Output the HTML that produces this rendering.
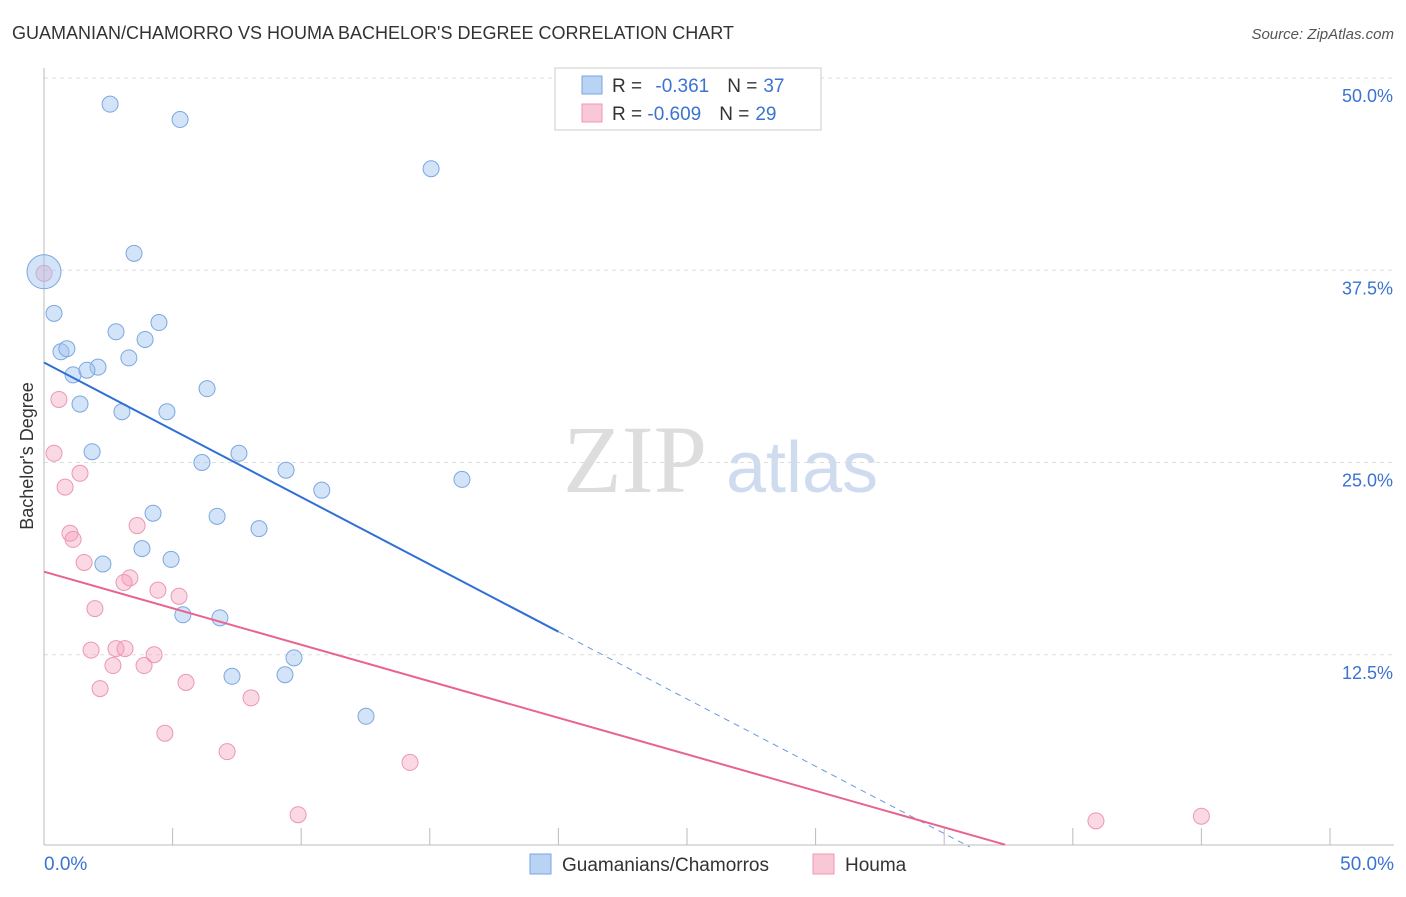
<!DOCTYPE html>
<html><head><meta charset="utf-8"><style>
body{margin:0;background:#fff;font-family:"Liberation Sans",sans-serif}
</style></head><body>
<svg id="c" width="1406" height="892" xmlns="http://www.w3.org/2000/svg">
<text x="12" y="39" font-size="18" fill="#333">GUAMANIAN/CHAMORRO VS HOUMA BACHELOR'S DEGREE CORRELATION CHART</text>
<text x="1394" y="39" font-size="15" fill="#555" font-style="italic" text-anchor="end">Source: ZipAtlas.com</text>
<text x="635" y="492" font-size="96" fill="#ddd" font-family="Liberation Serif" text-anchor="middle">ZIP</text>
<text x="802" y="492" font-size="72" fill="#cfdcf0" text-anchor="middle">atlas</text>
<text transform="translate(33,456) rotate(-90)" font-size="18" fill="#333" text-anchor="middle">Bachelor's Degree</text>
<g id="grid"></g><g id="pts"></g><g id="lines"></g>
<g>
<rect x="555" y="68" width="266" height="62" fill="#fff" stroke="#ccc"/>
<rect x="582" y="76" width="20" height="18" fill="#b9d3f5" stroke="#7aa6e0"/>
<rect x="582" y="104" width="20" height="18" fill="#f9c8d6" stroke="#ee9ab4"/>
<text x="612" y="92" font-size="19" fill="#333">R = <tspan fill="#3b73d1" dx="8">-0.361</tspan><tspan dx="18" fill="#333">N =</tspan><tspan dx="6" fill="#3b73d1">37</tspan></text>
<text x="612" y="120" font-size="19" fill="#333">R = <tspan fill="#3b73d1">-0.609</tspan><tspan dx="18" fill="#333">N =</tspan><tspan dx="6" fill="#3b73d1">29</tspan></text>
</g>
<g>
<rect x="530" y="854" width="21" height="20" fill="#b9d3f5" stroke="#7aa6e0"/>
<text x="562" y="871" font-size="19" fill="#333">Guamanians/Chamorros</text>
<rect x="813" y="854" width="21" height="20" fill="#f9c8d6" stroke="#ee9ab4"/>
<text x="845" y="871" font-size="19" fill="#333">Houma</text>
</g>
<text x="44" y="870" font-size="19" fill="#3b73d1">0.0%</text>
<text x="1394" y="870" font-size="19" fill="#3b73d1" text-anchor="end">50.0%</text>
</svg>
<script>
const yTicks=[12.5,25,37.5,50];
const yTickLabels=["12.5%","25.0%","37.5%","50.0%"];
const blueX=[2.57,5.29,15.05,3.5,0,0.39,2.8,4.47,3.93,0.66,0.89,3.3,2.1,1.13,1.67,6.34,1.4,3.03,4.78,1.87,7.58,6.14,9.41,10.8,16.25,4.24,6.73,8.36,3.81,4.94,2.29,5.4,6.84,9.72,7.31,9.37,12.52];
const blueY=[48.3,47.3,44.1,38.6,37.4,34.7,33.5,34.1,33.0,32.2,32.4,31.8,31.2,30.7,31.0,29.8,28.8,28.3,28.3,25.7,25.6,25.0,24.5,23.2,23.9,21.7,21.5,20.7,19.4,18.7,18.4,15.1,14.9,12.3,11.1,11.2,8.5];
const pinkX=[0,0.58,0.39,1.4,0.82,3.62,1.01,1.13,1.56,3.34,3.11,4.43,5.25,1.98,1.83,2.8,3.15,4.28,2.68,3.89,5.52,2.18,8.05,4.7,7.12,14.23,9.88,40.9,45.0];
const pinkY=[37.3,29.1,25.6,24.3,23.4,20.9,20.4,20.0,18.5,17.5,17.2,16.7,16.3,15.5,12.8,12.9,12.9,12.5,11.8,11.8,10.7,10.3,9.7,7.4,6.2,5.5,2.1,1.7,2.0];
const blueTrend=[31.5,-0.875];
const pinkTrend=[17.9,-0.475];
const NS="http://www.w3.org/2000/svg";
const X=v=>44+v*25.72, Y=v=>847-v*15.38;
function mk(t,a,p){const e=document.createElementNS(NS,t);for(const k in a)e.setAttribute(k,a[k]);p.appendChild(e);return e;}
const g=document.getElementById('grid');
yTicks.forEach((t,i)=>{
 const l=mk('line',{x1:44,x2:1394,y1:Y(t),y2:Y(t),stroke:'#ddd','stroke-dasharray':'4,4'},g);
 
 
 const tx=mk('text',{x:1393,y:Y(t)+24,'font-size':18,fill:'#3b73d1','text-anchor':'end'},g);
 tx.textContent=yTickLabels[i];
 
 
});
mk('line',{x1:44,x2:44,y1:68,y2:845,stroke:'#bbb'},g);
mk('line',{x1:44,x2:1394,y1:845,y2:845,stroke:'#bbb'},g);
for(let i=1;i<=10;i++){const tk=mk('line',{x1:X(i*5),x2:X(i*5),y1:828,y2:845,stroke:'#bbb'},g);
 
 }
const p=document.getElementById('pts');
pinkX.forEach((x,i)=>{const c=mk('circle',{cx:X(x),cy:Y(pinkY[i]),r:8,fill:'rgba(244,160,188,0.4)',stroke:'#ec97b2','stroke-width':1},p);
 
 });
blueX.forEach((x,i)=>{const c=mk('circle',{cx:X(x),cy:Y(blueY[i]),r:i==4?17:8,fill:'rgba(160,196,240,0.45)',stroke:'#7ba7e0','stroke-width':1},p);
 
 });
const L=document.getElementById('lines');
const bl=mk('line',{x1:X(0),y1:Y(blueTrend[0]),x2:X(20),y2:Y(blueTrend[0]+blueTrend[1]*20),stroke:'#2f6fd6','stroke-width':2},L);


const xe=-blueTrend[0]/blueTrend[1];
const bd=mk('line',{x1:X(20),y1:Y(blueTrend[0]+blueTrend[1]*20),x2:X(xe),y2:Y(0),stroke:'#6a98e0','stroke-width':1,'stroke-dasharray':'6,5'},L);


const pe=Math.min(50,(0.15-pinkTrend[0])/pinkTrend[1]);
const pl=mk('line',{x1:X(0),y1:Y(pinkTrend[0]),x2:X(pe),y2:Y(pinkTrend[0]+pinkTrend[1]*pe),stroke:'#e8648f','stroke-width':2},L);


</script>
</body></html>
